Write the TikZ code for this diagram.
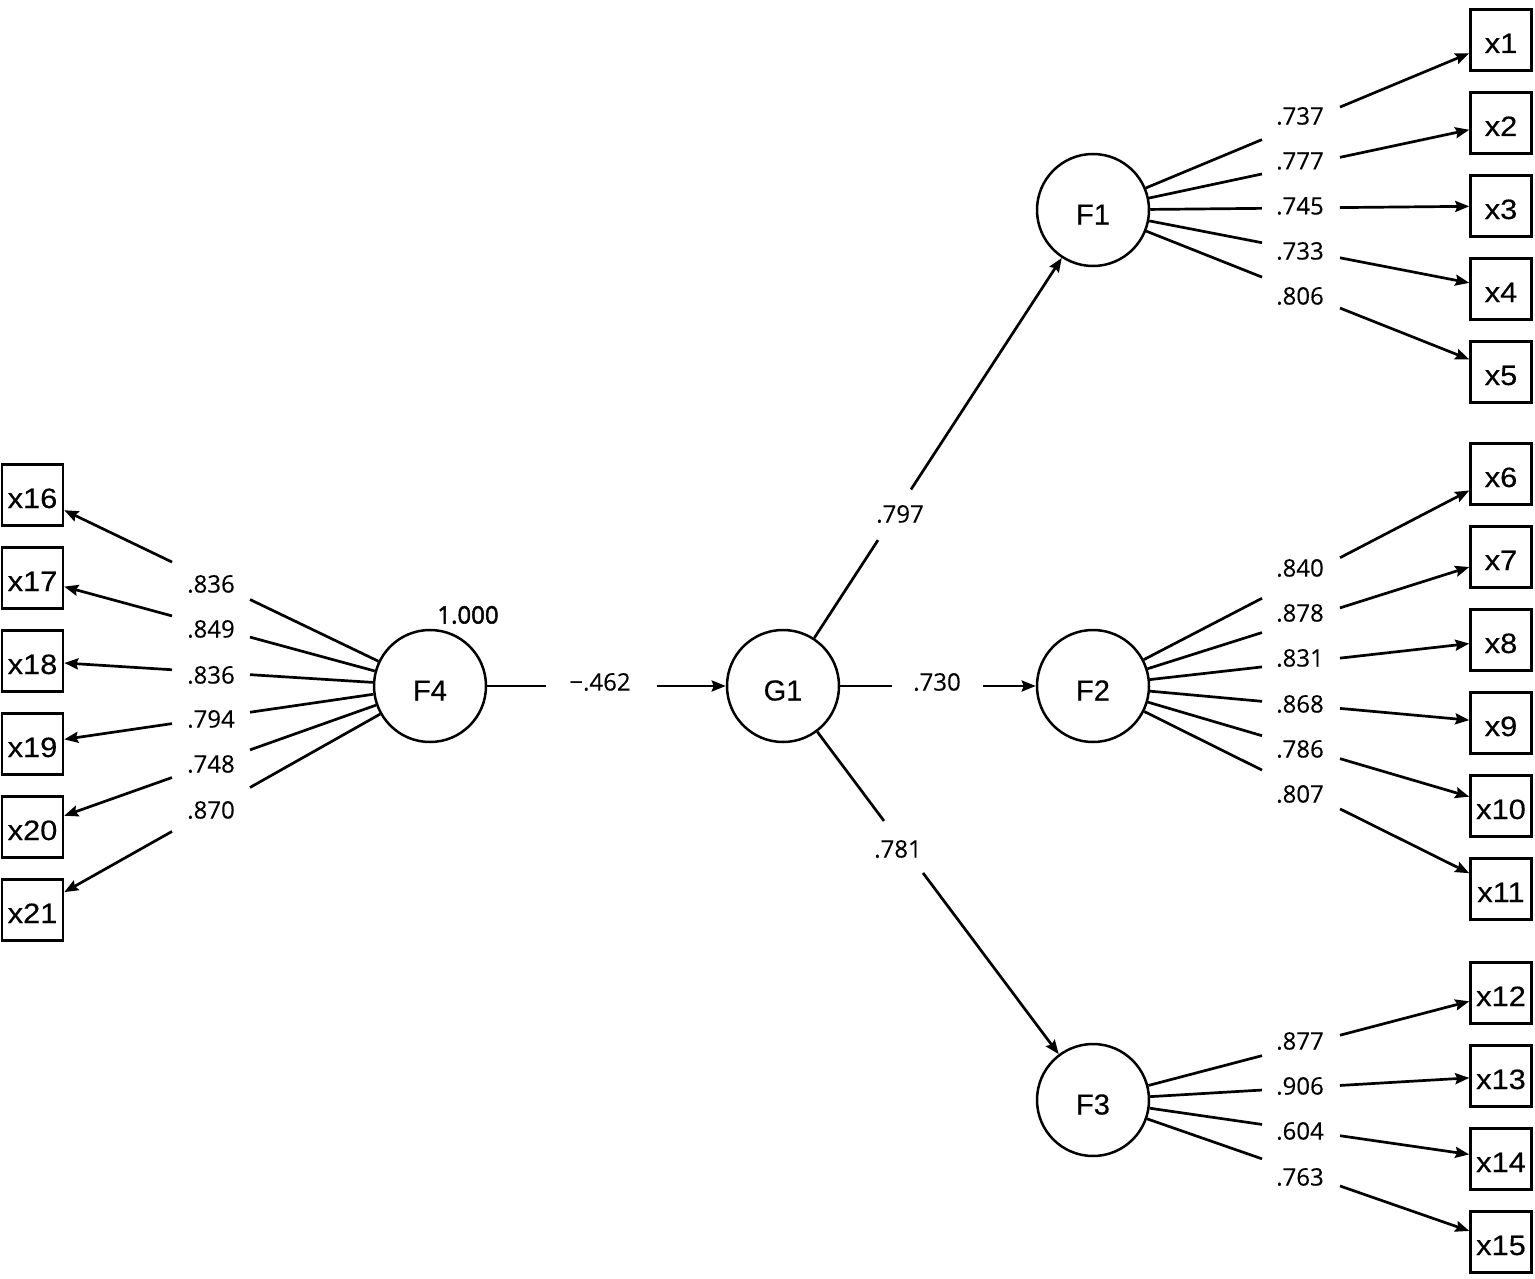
\documentclass[tikz,border=0pt]{standalone}
\usepackage{fontspec}
\usetikzlibrary{arrows.meta}
\newfontfamily\boxfont[FakeStretch=1.1,FakeBold=0.3]{Liberation Sans}
\newfontfamily\circfont[FakeBold=0.3]{Liberation Sans}
\newfontfamily\labfont[FakeBold=0.2]{Open Sans}
\newfontfamily\labboldfont[FakeBold=2]{Open Sans}
\newcommand\brk[4]{%
  \coordinate (#1#2p) at (intersection of #1--#2 and #31--#32);
  \coordinate (#1#2q) at (intersection of #1--#2 and #41--#42);
  \draw[conn] (#1) -- (#1#2p);
  \draw[arr] (#1#2q) -- (#2);}
\begin{document}
\begin{tikzpicture}[x=1pt,y=-1pt,
  obs/.style={draw, line width=2.5pt, minimum width=61pt, minimum height=61pt, inner sep=0pt,
    font=\boxfont\fontsize{28}{28}\selectfont, text height=26pt, text depth=0pt},
  lat/.style={draw, circle, line width=2.5pt, minimum size=112pt, inner sep=0pt,
    font=\circfont\fontsize{29}{29}\selectfont, text height=29pt, text depth=0pt},
  conn/.style={line width=2.7pt},
  arr/.style={conn, -{Stealth[length=14pt,width=11pt,inset=2pt]}},
  lab/.style={inner sep=0pt, font=\labfont\fontsize{24}{24}\selectfont},
  labb/.style={inner sep=0pt, font=\labboldfont\fontsize{24}{24}\selectfont}
]
\useasboundingbox[fill=white] (0,0) rectangle (1535,1279);

% latent variables
\node[lat] (F4) at (430,686) {F4};
\node[lat] (G1) at (783,686) {G1};
\node[lat] (F1) at (1093,210) {F1};
\node[lat] (F2) at (1093,686) {F2};
\node[lat] (F3) at (1093,1100) {F3};

% observed variables, right
\node[obs] (x1) at (1501,40) {x1};
\node[obs] (x2) at (1501,123) {x2};
\node[obs] (x3) at (1501,206) {x3};
\node[obs] (x4) at (1501,289) {x4};
\node[obs] (x5) at (1501,372) {x5};
\node[obs] (x6) at (1501,474) {x6};
\node[obs] (x7) at (1501,557) {x7};
\node[obs] (x8) at (1501,640) {x8};
\node[obs] (x9) at (1501,723) {x9};
\node[obs] (x10) at (1501,806) {x10};
\node[obs] (x11) at (1501,889) {x11};
\node[obs] (x12) at (1501,993) {x12};
\node[obs] (x13) at (1501,1076) {x13};
\node[obs] (x14) at (1501,1159) {x14};
\node[obs] (x15) at (1501,1242) {x15};
% observed variables, left
\node[obs] (x16) at (32.5,495) {x16};
\node[obs] (x17) at (32.5,578) {x17};
\node[obs] (x18) at (32.5,661) {x18};
\node[obs] (x19) at (32.5,744) {x19};
\node[obs] (x20) at (32.5,827) {x20};
\node[obs] (x21) at (32.5,910) {x21};

% gap reference lines
\coordinate (vA1) at (1262,0); \coordinate (vA2) at (1262,10);
\coordinate (vB1) at (1340,0); \coordinate (vB2) at (1340,10);
\coordinate (vC1) at (250,0);  \coordinate (vC2) at (250,10);
\coordinate (vD1) at (172,0);  \coordinate (vD2) at (172,10);
\coordinate (vE1) at (878,0);  \coordinate (vE2) at (878,10);
\coordinate (vF1) at (911,0);  \coordinate (vF2) at (911,10);
\coordinate (vG1) at (884,0);  \coordinate (vG2) at (884,10);
\coordinate (vH1) at (923,0);  \coordinate (vH2) at (923,10);
\coordinate (vI1) at (892,0);  \coordinate (vI2) at (892,10);
\coordinate (vJ1) at (983,0);  \coordinate (vJ2) at (983,10);
\coordinate (vK1) at (546,0);  \coordinate (vK2) at (546,10);
\coordinate (vL1) at (657,0);  \coordinate (vL2) at (657,10);

% structural paths
\brk{F4}{G1}{vK}{vL}
\brk{G1}{F1}{vE}{vF}
\brk{G1}{F2}{vI}{vJ}
\brk{G1}{F3}{vG}{vH}

% loadings
\brk{F1}{x1}{vA}{vB} \brk{F1}{x2}{vA}{vB} \brk{F1}{x3}{vA}{vB}
\brk{F1}{x4}{vA}{vB} \brk{F1}{x5}{vA}{vB}
\brk{F2}{x6}{vA}{vB} \brk{F2}{x7}{vA}{vB} \brk{F2}{x8}{vA}{vB}
\brk{F2}{x9}{vA}{vB} \brk{F2}{x10}{vA}{vB} \brk{F2}{x11}{vA}{vB}
\brk{F3}{x12}{vA}{vB} \brk{F3}{x13}{vA}{vB} \brk{F3}{x14}{vA}{vB}
\brk{F3}{x15}{vA}{vB}
\brk{F4}{x16}{vC}{vD} \brk{F4}{x17}{vC}{vD} \brk{F4}{x18}{vC}{vD}
\brk{F4}{x19}{vC}{vD} \brk{F4}{x20}{vC}{vD} \brk{F4}{x21}{vC}{vD}

% labels
\node[lab] (l1) at (1300,116) {.737};
\node[lab] (l2) at (1300,161) {.777};
\node[lab] (l3) at (1300,206) {.745};
\node[lab] (l4) at (1300,251) {.733};
\node[lab] (l5) at (1300,296) {.806};
\node[lab] (l6) at (1300,568) {.840};
\node[lab] (l7) at (1300,613) {.878};
\node[lab] (l8) at (1300,658) {.831};
\node[lab] (l9) at (1300,704) {.868};
\node[lab] (l10) at (1300,749) {.786};
\node[lab] (l11) at (1300,794) {.807};
\node[lab] (l12) at (1300,1041) {.877};
\node[lab] (l13) at (1300,1086) {.906};
\node[lab] (l14) at (1300,1131) {.604};
\node[lab] (l15) at (1300,1177) {.763};
\node[lab] (l16) at (211,584) {.836};
\node[lab] (l17) at (211,629) {.849};
\node[lab] (l18) at (211,675) {.836};
\node[lab] (l19) at (211,719) {.794};
\node[lab] (l20) at (211,764) {.748};
\node[lab] (l21) at (211,810) {.870};
\node[lab] (lg1) at (900,514) {.797};
\node[lab] (lg2) at (937,682) {.730};
\node[lab] (lg3) at (898,849) {.781};
\node[lab] (lf4) at (600,682) {−.462};
\node[labb] (lvar) at (468,615) {1.000};
\end{tikzpicture}
\end{document}
